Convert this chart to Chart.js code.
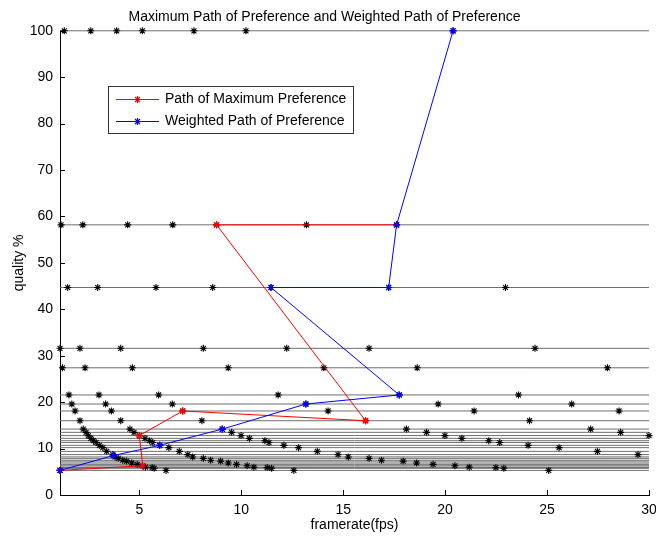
<!DOCTYPE html>
<html>
<head>
<meta charset="utf-8">
<script src="https://cdn.jsdelivr.net/npm/chart.js@4.4.1/dist/chart.umd.min.js"></script>
<style>
  html, body { margin: 0; padding: 0; background: #fff; }
  #c { display: block; }
</style>
</head>
<body>
<canvas id="c" width="656" height="536"></canvas>
<script>
// ---- data ----
const chartTitle = 'Maximum Path of Preference and Weighted Path of Preference';
const xTitle = 'framerate(fps)';
const yTitle = 'quality %';
const xTicks = [5, 10, 15, 20, 25, 30];
const yTicks = [0, 10, 20, 30, 40, 50, 60, 70, 80, 90, 100];
const xRange = [1.11, 30];
const yRange = [0, 100];

// quality levels (horizontal lines) and the framerates marked on each
const qualityLevels = [100, 58.2, 44.7, 31.6, 27.4, 21.55, 19.6, 18.1, 16.0, 14.2, 13.5, 12.8, 12.2, 11.7, 11.3, 10.7, 10.2, 9.4, 8.7, 8.2, 7.9, 7.5, 7.3, 6.9, 6.6, 6.3, 6.0, 5.9, 5.75, 5.3];
const levelFramerates = [
  [1.32, 2.62, 3.89, 5.15, 7.68, 10.23, 20.39],
  [1.16, 2.23, 4.43, 6.64, 8.79, 13.2, 17.62],
  [1.49, 2.96, 5.82, 8.6, 11.46, 17.23, 22.96],
  [1.11, 2.09, 4.09, 8.14, 12.23, 16.27, 24.41],
  [1.23, 2.34, 4.66, 9.36, 14.05, 18.63, 27.96],
  [1.55, 3.02, 5.95, 11.81, 17.75, 23.6],
  [1.69, 3.35, 6.62, 13.17, 19.66, 26.21],
  [1.85, 3.63, 7.13, 14.26, 21.42, 28.53],
  [2.09, 4.09, 8.07, 16.1, 24.14],
  [2.25, 4.54, 9.07, 18.1, 27.14],
  [2.39, 4.74, 9.53, 19.09, 28.61],
  [2.5, 5.0, 9.99, 19.99, 30.0],
  [2.62, 5.28, 10.4, 20.82],
  [2.75, 5.5, 11.16, 22.14],
  [2.88, 5.66, 11.36, 22.68],
  [3.04, 6.0, 12.09, 24.07],
  [3.21, 6.45, 12.81, 25.59],
  [3.4, 6.96, 13.73, 27.47],
  [3.7, 7.38, 14.75, 29.46],
  [3.81, 7.62, 15.25],
  [3.97, 8.14, 16.27],
  [4.19, 8.5, 16.88],
  [4.38, 8.99, 17.94],
  [4.63, 9.36, 18.6],
  [4.9, 9.77, 19.41],
  [5.15, 10.29, 20.48],
  [5.3, 10.62, 21.18],
  [5.63, 11.27, 22.49],
  [5.73, 11.49, 22.88],
  [1.11, 6.31, 12.58, 25.08]
];

const maxPathLabel = 'Path of Maximum Preference';
const maxPathX = [1.11, 5.17, 5.0, 7.13, 16.1, 8.79, 17.62];
const maxPathY = [5.3, 6.3, 12.8, 18.1, 16.0, 58.2, 58.2];

const weightedPathLabel = 'Weighted Path of Preference';
const weightedPathX = [1.11, 3.73, 6.0, 9.07, 13.17, 17.75, 11.46, 17.23, 17.62, 20.39];
const weightedPathY = [5.3, 8.5, 10.7, 14.2, 19.6, 21.55, 44.7, 44.7, 58.2, 100];

// ---- build datasets ----
const FONT = '"Liberation Sans", Arial, Helvetica, sans-serif';
const RED = 'rgb(255,0,0)';
const BLUE = 'rgb(0,0,255)';
const datasets = [];

datasets.push({
  type: 'line', label: weightedPathLabel,
  data: weightedPathX.map((x, i) => ({ x, y: weightedPathY[i] })),
  borderColor: BLUE, borderWidth: 1,
  pointStyle: 'star', pointRadius: 3.5, pointBorderColor: BLUE, pointBorderWidth: 1.2,
  pointBackgroundColor: BLUE,
  tension: 0, fill: false, clip: false, order: 0
});
datasets.push({
  type: 'line', label: maxPathLabel,
  data: maxPathX.map((x, i) => ({ x, y: maxPathY[i] })),
  borderColor: RED, borderWidth: 1,
  pointStyle: 'star', pointRadius: 3.5, pointBorderColor: RED, pointBorderWidth: 1.2,
  pointBackgroundColor: RED,
  tension: 0, fill: false, clip: false, order: 1
});
const starPts = [];
qualityLevels.forEach((q, i) => levelFramerates[i].forEach(x => starPts.push({ x, y: q })));
datasets.push({
  type: 'scatter', label: 'levels',
  data: starPts, showLine: false,
  pointStyle: 'star', pointRadius: 3.5, pointBorderColor: '#000', pointBorderWidth: 1.1,
  pointBackgroundColor: '#000', clip: false, order: 2
});
qualityLevels.forEach(q => {
  datasets.push({
    type: 'line', label: 'line',
    data: [{ x: xRange[0], y: q }, { x: xRange[1], y: q }],
    borderColor: '#6e6e6e', borderWidth: 1, pointRadius: 0,
    tension: 0, fill: false, clip: false, order: 3
  });
});

function drawStar(ctx, cx, cy, r, color) {
  ctx.save();
  ctx.strokeStyle = color;
  ctx.lineWidth = 1.2;
  ctx.beginPath();
  for (let k = 0; k < 4; k++) {
    const a = k * Math.PI / 4;
    const dx = Math.cos(a) * r, dy = Math.sin(a) * r;
    ctx.moveTo(cx - dx, cy - dy);
    ctx.lineTo(cx + dx, cy + dy);
  }
  ctx.stroke();
  ctx.restore();
}

// ---- plugin: inward ticks + legend box ----
const decor = {
  id: 'decor',
  afterDraw(chart) {
    const { ctx, chartArea: ca, scales } = chart;
    const xs = scales.x, ys = scales.y;
    ctx.save();
    ctx.strokeStyle = '#000';
    ctx.lineWidth = 1;
    ctx.beginPath();
    yTicks.forEach(v => {
      const p = Math.round(ys.getPixelForValue(v)) + 0.5;
      ctx.moveTo(ca.left, p); ctx.lineTo(ca.left + 5, p);
    });
    xTicks.forEach(v => {
      const p = Math.round(xs.getPixelForValue(v)) + 0.5;
      ctx.moveTo(p, ca.bottom); ctx.lineTo(p, ca.bottom - 5);
    });
    ctx.stroke();

    // legend
    const bx = 108.5, by = 86.5, bw = 245, bh = 47;
    ctx.fillStyle = '#fff';
    ctx.fillRect(bx, by, bw, bh);
    ctx.strokeStyle = '#333';
    ctx.lineWidth = 1;
    ctx.strokeRect(bx, by, bw, bh);
    const items = [
      { label: maxPathLabel, color: RED, y: 99.5 },
      { label: weightedPathLabel, color: BLUE, y: 121.5 }
    ];
    items.forEach(it => {
      ctx.strokeStyle = it.color;
      ctx.lineWidth = 1;
      ctx.beginPath();
      ctx.moveTo(116, it.y); ctx.lineTo(159, it.y);
      ctx.stroke();
      drawStar(ctx, 137.5, it.y, 3.5, it.color);
      ctx.fillStyle = '#000';
      ctx.font = '14px ' + FONT;
      ctx.textBaseline = 'middle';
      ctx.textAlign = 'left';
      ctx.fillText(it.label, 165, it.y);
    });
    ctx.restore();
  }
};

new Chart(document.getElementById('c'), {
  data: { datasets },
  options: {
    responsive: false,
    animation: false,
    layout: { padding: { left: 0, right: 7, top: 0, bottom: 0 } },
    plugins: {
      legend: { display: false },
      tooltip: { enabled: false },
      title: {
        display: true, text: chartTitle, color: '#000',
        font: { family: FONT, size: 14, weight: 'normal' },
        padding: { top: 9, bottom: 5 }
      }
    },
    scales: {
      x: {
        type: 'linear', min: xRange[0], max: xRange[1],
        afterBuildTicks: s => { s.ticks = xTicks.map(v => ({ value: v })); },
        afterFit: s => { s.height = 41; s.paddingLeft = 0; s.paddingRight = 0; },
        grid: { display: false, drawTicks: false },
        border: { display: true, color: '#000', width: 1 },
        ticks: { color: '#000', font: { family: FONT, size: 14 }, padding: 7, maxRotation: 0, autoSkip: false },
        title: { display: true, text: xTitle, color: '#000', font: { family: FONT, size: 14 }, padding: { top: 0, bottom: 2 } }
      },
      y: {
        type: 'linear', min: yRange[0], max: yRange[1],
        afterBuildTicks: s => { s.ticks = yTicks.map(v => ({ value: v })); },
        afterFit: s => { s.width = 60; s.paddingTop = 0; s.paddingBottom = 0; },
        grid: { display: false, drawTicks: false },
        border: { display: true, color: '#000', width: 1 },
        ticks: { color: '#000', font: { family: FONT, size: 14 }, padding: 7, autoSkip: false },
        title: { display: true, text: yTitle, color: '#000', font: { family: FONT, size: 14 }, padding: { top: 11, bottom: 0 } }
      }
    }
  },
  plugins: [decor]
});
</script>
</body>
</html>
